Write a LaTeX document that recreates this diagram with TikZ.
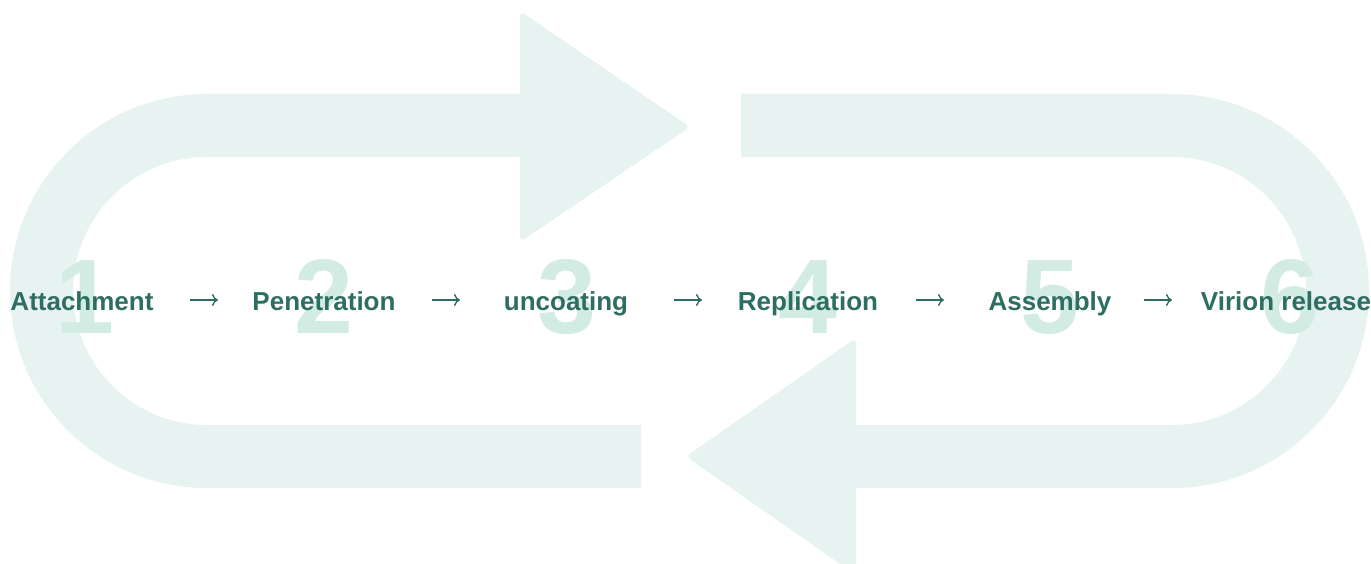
\documentclass[tikz,border=0pt]{standalone}
\usepackage{fontspec}
\setmainfont{Liberation Sans}
\usetikzlibrary{arrows.meta}
\definecolor{band}{HTML}{E6F3F0}
\definecolor{digit}{HTML}{D2ECE4}
\definecolor{ink}{HTML}{2E6E62}
\tikzset{
  loopband/.style={draw=band,line width=63pt,line cap=butt},
  headfill/.style={fill=band,rounded corners=5pt},
  numtxt/.style={anchor=base,text=digit,font=\fontsize{106}{106}\selectfont\bfseries,inner sep=0pt},
  steptxt/.style={anchor=base,text=ink,font=\fontsize{26}{26}\selectfont\bfseries,inner sep=0pt},
  flow/.style={draw=ink,line width=1.4pt,-{To[length=6pt,width=12pt,line width=1.4pt]}}
}
\begin{document}
\begin{tikzpicture}[x=1pt,y=-1pt]
\useasboundingbox (0,0) rectangle (1371,564);
\fill[white] (0,0) rectangle (1371,564);
% loops
\draw[loopband] (641,456.5) -- (207,456.5) arc[start angle=90,end angle=270,radius=165.5] -- (521,125.5);
\fill[headfill] (520,11) -- (690,127) -- (520,242) -- cycle;
\draw[loopband] (741,125.5) -- (1172,125.5) arc[start angle=-90,end angle=90,radius=165.5] -- (855,456.5);
\fill[headfill] (856,338) -- (686,456.5) -- (856,575) -- cycle;
% digits
\node[numtxt] (d1) at (85,333) {1};
\node[numtxt] (d2) at (324,333) {2};
\node[numtxt] (d3) at (567,333) {3};
\node[numtxt] (d4) at (808,333) {4};
\node[numtxt] (d5) at (1050,333) {5};
\node[numtxt] (d6) at (1290,333) {6};
% steps
\node[steptxt] (s1) at (82,310) {Attachment};
\node[steptxt] (s2) at (324,310) {Penetration};
\node[steptxt] (s3) at (566,310) {uncoating};
\node[steptxt] (s4) at (808,310) {Replication};
\node[steptxt] (s5) at (1050,310) {Assembly};
\node[steptxt] (s6) at (1286,310) {Virion release};
% arrows
\coordinate (m1) at (204,300);
\coordinate (m2) at (446,300);
\coordinate (m3) at (688,300);
\coordinate (m4) at (930,300);
\coordinate (m5) at (1158,300);
\foreach \m in {m1,m2,m3,m4,m5}{
  \draw[flow] ([xshift=-14pt]\m) -- ([xshift=14pt]\m);
}
\end{tikzpicture}
\end{document}
